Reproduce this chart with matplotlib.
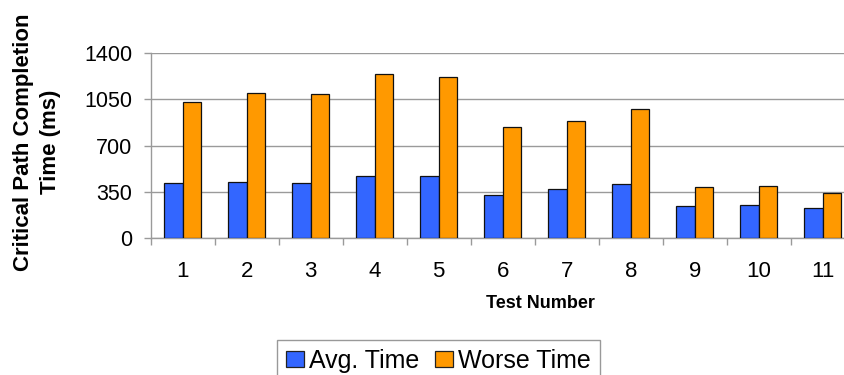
import matplotlib
matplotlib.use("Agg")
import matplotlib.pyplot as plt
import numpy as np
from matplotlib.patches import Patch

plt.rcParams['font.family'] = ['Liberation Sans', 'DejaVu Sans']

tests = ["1", "2", "3", "4", "5", "6", "7", "8", "9", "10", "11"]
avg_time = [412, 420, 413, 468, 468, 322, 367, 405, 240, 251, 223]
worse_time = [1028, 1099, 1091, 1246, 1218, 840, 889, 980, 387, 395, 339]
y_ticks = [0, 350, 700, 1050, 1400]

BLUE = "#3366FF"
ORANGE = "#FF9900"
GRID = "#9a9a9a"

fig = plt.figure(figsize=(8.45, 3.75), dpi=100)
ax = fig.add_axes([0.1783, 0.3661, 0.8332, 0.4918])

x = np.arange(1, len(tests) + 1)
w = 0.286
ax.bar(x - w / 2, avg_time, width=w, color=BLUE, edgecolor="#111111", linewidth=0.9, zorder=3)
ax.bar(x + w / 2, worse_time, width=w, color=ORANGE, edgecolor="#111111", linewidth=0.9, zorder=3)

ax.set_xlim(0.5, len(tests) + 0.5)
ax.set_ylim(0, 1400)
ax.set_yticks(y_ticks)
ax.set_yticklabels([str(v) for v in y_ticks], fontsize=15.5)
ax.yaxis.grid(True, color=GRID, linewidth=1.0, zorder=0)
ax.tick_params(axis='y', length=5, width=1.0, color=GRID, pad=8)

ax.set_xticks(x)
ax.set_xticklabels(tests, fontsize=16)
ax.set_xticks(np.arange(0.5, len(tests) + 1.0, 1.0), minor=True)
ax.tick_params(axis='x', which='major', length=0, pad=16.5)
ax.tick_params(axis='x', which='minor', length=5, width=1.0, color=GRID)

for side in ("top", "right"):
    ax.spines[side].set_visible(False)
for side in ("left", "bottom"):
    ax.spines[side].set_color(GRID)
    ax.spines[side].set_linewidth(1.0)

fig.text(540 / 845, 1 - 304 / 375, "Test Number", fontsize=13, fontweight="bold",
         ha="center", va="center")
fig.text(37 / 845, 1 - 142 / 375, "Critical Path Completion\nTime (ms)", fontsize=16,
         fontweight="bold", rotation=90, ha="center", va="center",
         multialignment="center", linespacing=1.33)

handles = [Patch(facecolor=BLUE, edgecolor="#222222", linewidth=0.9),
           Patch(facecolor=ORANGE, edgecolor="#222222", linewidth=0.9)]
leg = fig.legend(handles, ["Avg. Time", "Worse Time"], loc="upper left",
                 bbox_to_anchor=(277 / 845, 1 - 340 / 375), ncol=2, fontsize=18,
                 frameon=True, fancybox=False, edgecolor="#999999", framealpha=1,
                 borderaxespad=0, borderpad=0.35, handlelength=0.72, handleheight=0.64,
                 handletextpad=0.22, columnspacing=0.62)
leg.get_frame().set_linewidth(1.0)

fig.savefig("out.png", dpi=100)
